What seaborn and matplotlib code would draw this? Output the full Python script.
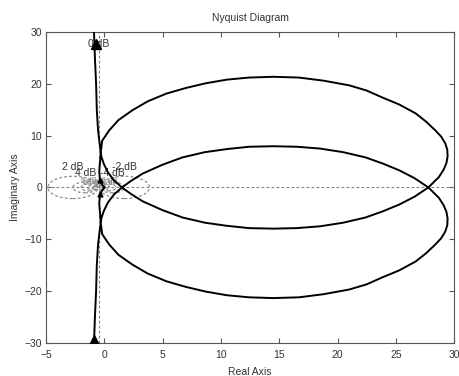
import matplotlib
matplotlib.use("Agg")
import matplotlib.pyplot as plt
from matplotlib.patches import Circle
import numpy as np
import pandas as pd
import seaborn as sns

sns.set_theme(style="ticks")
plt.rcParams["font.family"] = ["Liberation Sans", "DejaVu Sans"]

# ── data ────────────────────────────────────────────────────────────────────
# upper branch (tail from +j inf, big loop, then into the origin)
upper_re = [-0.90, -0.82, -0.72, -0.66, -0.55, -0.42, -0.32,
            -0.20, 0.40, 1.20, 2.40, 3.70, 5.30, 7.00, 8.70, 10.5, 12.4,
            14.5, 16.7, 18.8, 21.0, 22.5, 23.8, 25.3, 26.7, 27.6, 28.4,
            28.9, 29.25, 29.42, 29.45, 29.35, 29.1, 28.7, 27.8, 26.6, 25.3, 23.9,
            22.4, 20.5, 18.5, 16.5, 14.5, 12.4, 10.5, 8.6, 6.7, 5.0, 3.3,
            2.3, 1.5, 0.8, 0.3, -0.05, -0.25, -0.32,
            -0.40, -0.45, -0.40, -0.30, -0.15, 0.0]
upper_im = [30.0, 25.0, 20.0, 15.0, 11.0, 8.5, 6.8,
            9.0, 11.0, 13.0, 14.9, 16.6, 18.1, 19.2, 20.1, 20.8, 21.2,
            21.35, 21.2, 20.6, 19.7, 18.7, 17.4, 16.0, 14.3, 12.7, 11.0,
            9.8, 8.5, 7.3, 6.0, 4.7, 3.4, 2.0, 0.0, -1.8, -3.3, -4.6,
            -5.8, -6.8, -7.5, -7.85, -7.95, -7.85, -7.4, -6.8, -5.8, -4.4, -2.7,
            -1.3, 0.0, 1.4, 2.9, 4.5, 5.8, 6.6,
            4.5, 3.0, 1.8, 1.0, 0.4, 0.0]

# arrow markers on the branches
arrow_re = [-0.86, -0.70]
arrow_im = [-29.4, 27.6]
small_arrow_re = [-0.38, -0.36]
small_arrow_im = [1.5, -1.3]

# M-circle grid levels (dB)
grid_db = [-20, -10, -6, -4, -2, 2, 4, 6, 10, 20]

xticks = [-5, 0, 5, 10, 15, 20, 25, 30]
yticks = [-30, -20, -10, 0, 10, 20, 30]

# lower branch is the complex conjugate of the upper one
curve = pd.concat([
    pd.DataFrame({"re": upper_re, "im": upper_im, "branch": "upper"}),
    pd.DataFrame({"re": upper_re[::-1], "im": [-v for v in upper_im[::-1]], "branch": "lower"}),
])

TXT = "#333333"
GRID = "#808080"

fig = plt.figure(figsize=(4.6, 3.76), dpi=100)
ax = fig.add_axes([0.1005, 0.088, 0.8865, 0.827])

# grid: M-circles, 0 dB line, real axis
for db in grid_db:
    m2 = 10 ** (db / 10)
    cx = -m2 / (m2 - 1)
    r = abs(np.sqrt(m2) / (m2 - 1))
    ax.add_patch(Circle((cx, 0), r, fill=False, ec=GRID, lw=0.8,
                        ls=(0, (2.5, 2)), zorder=1))
    if abs(db) <= 4:
        ax.annotate(f"{db} dB", (cx, r), xytext=(0, 3), textcoords="offset points",
                    ha="center", va="bottom", fontsize=7.5, color=TXT, zorder=2)
    else:
        ax.annotate(f"{db} dB", (cx, r), xytext=(0, 0), textcoords="offset points",
                    ha="center", va="bottom", fontsize=5.5, color="#8a8a8a", zorder=2)
ax.axvline(-0.5, color=GRID, lw=0.8, ls=(0, (2.5, 2)), zorder=1)
ax.axhline(0, color=GRID, lw=0.8, ls=(0, (2.5, 2)), zorder=1)
ax.text(-0.5, 27.7, "0 dB", ha="center", va="center", fontsize=7.5, color=TXT, zorder=2)

sns.lineplot(data=curve, x="re", y="im", units="branch", estimator=None,
             sort=False, color="black", lw=1.4, ax=ax, zorder=3)
ax.plot(arrow_re, arrow_im, "^", color="black", ms=6.5, zorder=4)
ax.plot(small_arrow_re, small_arrow_im, "^", color="black", ms=3.5, zorder=4)

ax.set_xlim(-5, 30)
ax.set_ylim(-30, 30)
ax.set_xticks(xticks)
ax.set_yticks(yticks)
ax.tick_params(direction="in", length=3.5, width=0.8, labelsize=7.5,
               colors="#555555", labelcolor=TXT, top=True, right=True)
ax.tick_params(axis="x", pad=5)
ax.tick_params(axis="y", pad=3)
for s in ax.spines.values():
    s.set_visible(True)
    s.set_color("#555555")
    s.set_linewidth(0.8)

ax.set_title("Nyquist Diagram", fontsize=7.5, color=TXT, pad=8)
ax.set_xlabel("Real Axis", fontsize=7.5, color=TXT, labelpad=5)
ax.set_ylabel("Imaginary Axis", fontsize=7.5, color=TXT, labelpad=3)

fig.savefig("out.png", dpi=100)
